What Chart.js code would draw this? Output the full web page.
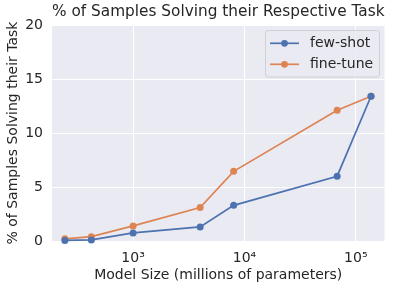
<!DOCTYPE html>
<html>
<head>
<meta charset="utf-8">
<script src="https://cdn.jsdelivr.net/npm/chart.js@4.4.0/dist/chart.umd.min.js"></script>
<style>
  html, body { margin: 0; padding: 0; background: #ffffff; }
  #myChart { display: block; }
</style>
</head>
<body>
<canvas id="myChart" width="399" height="290"></canvas>
<script>
// model sizes (millions of parameters)
var modelSizes = [244, 422, 1000, 4000, 8000, 68000, 137000];
// % of samples solving their task
var fewShot = [0.05, 0.1, 0.75, 1.3, 3.3, 6.0, 13.4];
var fineTune = [0.2, 0.4, 1.4, 3.1, 6.45, 12.1, 13.4];
var seriesNames = ['few-shot', 'fine-tune'];
var xTickValues = [1000, 10000, 100000];
var xTickLabels = ['10\u00b3', '10\u2074', '10\u2075'];
var yTickValues = [0, 5, 10, 15, 20];

var textColor = '#262626';
var fontFamily = "'DejaVu Sans', sans-serif";

var toPoints = function (ys) {
  var pts = [];
  for (var i = 0; i < modelSizes.length; i += 1) {
    pts.push({ x: modelSizes[i], y: ys[i] });
  }
  return pts;
};

// background of the plot area
var plotBackground = {
  id: 'plotBackground',
  afterLayout: function (chart) {
    // center the title over the plot area, not the whole canvas
    if (chart.titleBlock) {
      chart.titleBlock.left = chart.chartArea.left;
      chart.titleBlock.right = chart.chartArea.right;
    }
  },
  beforeDraw: function (chart) {
    var a = chart.chartArea;
    var ctx = chart.ctx;
    ctx.save();
    ctx.fillStyle = '#eaeaf2';
    ctx.fillRect(a.left, a.top, a.right - a.left, a.bottom - a.top);
    ctx.restore();
  }
};

// legend in the upper right corner, like matplotlib
var innerLegend = {
  id: 'innerLegend',
  afterDatasetsDraw: function (chart) {
    var a = chart.chartArea;
    var ctx = chart.ctx;
    var w = 114, h = 46.5;
    var x0 = a.right - 5.5 - w;
    var y0 = a.top + 5;
    ctx.save();
    ctx.beginPath();
    ctx.roundRect(x0 + 0.5, y0 + 0.5, w, h, 3);
    ctx.fillStyle = 'rgba(234,234,242,0.85)';
    ctx.fill();
    ctx.strokeStyle = '#cfcfd6';
    ctx.lineWidth = 1;
    ctx.stroke();
    ctx.font = '14px ' + fontFamily;
    ctx.textBaseline = 'middle';
    chart.data.datasets.forEach(function (ds, i) {
      var y = y0 + 13.3 + i * 21;
      ctx.strokeStyle = ds.borderColor;
      ctx.lineWidth = ds.borderWidth;
      ctx.beginPath();
      ctx.moveTo(x0 + 5, y);
      ctx.lineTo(x0 + 34, y);
      ctx.stroke();
      ctx.fillStyle = ds.borderColor;
      ctx.beginPath();
      ctx.arc(x0 + 19.5, y, 3.4, 0, Math.PI * 2);
      ctx.fill();
      ctx.fillStyle = textColor;
      ctx.fillText(ds.label, x0 + 45, y + 0.5);
    });
    ctx.restore();
  }
};

var makeSet = function (label, data, color) {
  return {
    label: label,
    data: toPoints(data),
    borderColor: color,
    backgroundColor: color,
    borderWidth: 1.7,
    pointRadius: 3.5,
    pointBorderWidth: 0,
    pointBackgroundColor: color,
    tension: 0,
    clip: false
  };
};

var ctx = document.getElementById('myChart');
var myChart = new Chart(ctx, {
  type: 'line',
  data: {
    datasets: [
      makeSet(seriesNames[0], fewShot, '#4c72b0'),
      makeSet(seriesNames[1], fineTune, '#dd8452')
    ]
  },
  options: {
    responsive: false,
    animation: false,
    devicePixelRatio: 1,
    events: [],
    layout: { padding: { left: 0, right: 14.5, top: 0, bottom: 0 } },
    plugins: {
      legend: { display: false },
      tooltip: { enabled: false },
      title: {
        display: true,
        text: '% of Samples Solving their Respective Task',
        color: textColor,
        font: { family: fontFamily, size: 15.5, weight: 'normal', lineHeight: 1 },
        padding: { top: 4.2, bottom: 5.3 }
      }
    },
    scales: {
      x: {
        type: 'logarithmic',
        min: 187,
        max: 181000,
        afterBuildTicks: function (scale) {
          scale.ticks = xTickValues.map(function (v) { return { value: v }; });
        },
        afterFit: function (scale) { scale.height = 49; },
        ticks: {
          color: textColor,
          font: { family: fontFamily, size: 14 },
          padding: 8.5,
          maxRotation: 0,
          autoSkip: false,
          callback: function (value) {
            var i = xTickValues.indexOf(value);
            return i >= 0 ? xTickLabels[i] : '';
          }
        },
        grid: { color: '#ffffff', lineWidth: 1, drawTicks: false },
        border: { display: false },
        title: {
          display: true,
          text: 'Model Size (millions of parameters)',
          color: textColor,
          font: { family: fontFamily, size: 14 },
          padding: { top: 0, bottom: 6.6 }
        }
      },
      y: {
        type: 'linear',
        min: 0,
        max: 20,
        afterBuildTicks: function (scale) {
          scale.ticks = yTickValues.map(function (v) { return { value: v }; });
        },
        afterFit: function (scale) { scale.width = 52; },
        ticks: {
          color: textColor,
          font: { family: fontFamily, size: 14 },
          padding: 9
        },
        grid: { color: '#ffffff', lineWidth: 1, drawTicks: false },
        border: { display: false },
        title: {
          display: true,
          text: '% of Samples Solving their Task',
          color: textColor,
          font: { family: fontFamily, size: 14 },
          padding: { top: 4.6, bottom: 0 }
        }
      }
    }
  },
  plugins: [plotBackground, innerLegend]
});
</script>
</body>
</html>
